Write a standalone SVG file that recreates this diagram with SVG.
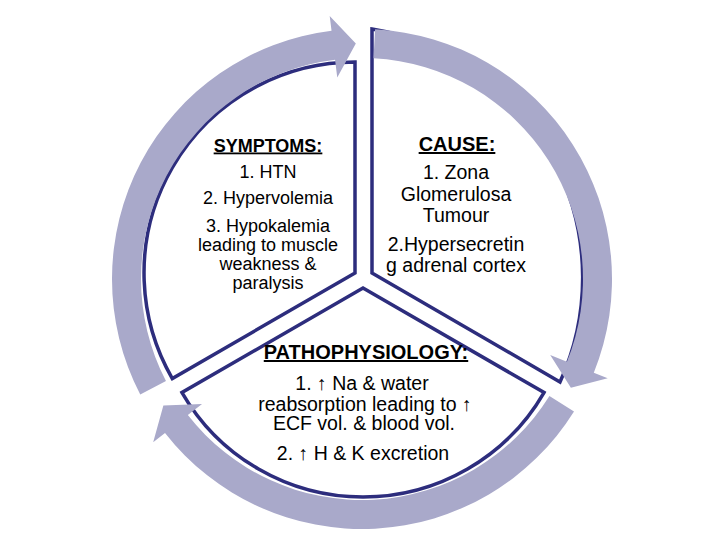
<svg xmlns="http://www.w3.org/2000/svg" width="720" height="540" viewBox="0 0 720 540">
<style>
.sector{fill:#fff;stroke:#2d2d7d;stroke-width:3.5;stroke-linejoin:miter}
.arrow{fill:#a9a9ca}
text{font-family:"Liberation Sans",Arial,sans-serif;fill:#000;text-anchor:middle}
.h{font-weight:bold;text-decoration:underline}
.s{font-size:18px}
.c{font-size:19.5px}
.up{font-family:"Liberation Sans","DejaVu Sans",sans-serif;fill:#000}
</style>
<rect width="720" height="540" fill="#fff"/>
<g id="symptoms">
<path class="sector" d="M355,273 L172.3,378.5 A211,211 0 0 1 355,62 Z"/>
<text class="s h" x="268" y="151.5">SYMPTOMS:</text>
<text class="s" x="268" y="178">1. HTN</text>
<text class="s" x="268" y="204">2. Hypervolemia</text>
<text class="s" x="268" y="232">3. Hypokalemia</text>
<text class="s" x="268" y="251">leading to muscle</text>
<text class="s" x="268" y="270">weakness &amp;</text>
<text class="s" x="268" y="289">paralysis</text>
</g>
<g id="cause">
<path class="sector" d="M372,273 L372,29 A252,252 0 0 1 560,382 Z"/>
<text class="h" style="font-size:20px" x="457" y="151">CAUSE:</text>
<text class="c" x="456" y="179">1. Zona</text>
<text class="c" x="456" y="200.5">Glomerulosa</text>
<text class="c" x="456" y="221.5">Tumour</text>
<text class="c" x="456" y="250.5">2.Hypersecretin</text>
<text class="c" x="456" y="271.5">g adrenal cortex</text>
</g>
<g id="pathophysiology">
<path class="sector" d="M363,288 L544,392.5 A209,209 0 0 1 182,392.5 Z"/>
<text class="h" style="font-size:20px" x="366" y="359">PATHOPHYSIOLOGY:</text>
<text class="c" x="362" y="390">1. <tspan class="up">↑</tspan> Na &amp; water</text>
<text class="c" x="365" y="410.5">reabsorption leading to <tspan class="up">↑</tspan></text>
<text class="c" x="364" y="430">ECF vol. &amp; blood vol.</text>
<text class="c" x="363" y="460">2. <tspan class="up">↑</tspan> H &amp; K excretion</text>
</g>
<g id="connectors">
<path class="arrow" d="M165.97,381.05 L140.25,394.44 A250,250 0 0 1 331.53,30.86 L329.7,15.97 L355.83,43.58 L337.26,77.51 L335.07,59.65 A221,221 0 0 0 165.97,381.05 Z"/>
<path class="arrow" d="M373.57,58.3 L375.08,29.34 A250,250 0 0 1 593.8,372.65 L607.7,378.27 L570.89,387.74 L550.22,355.05 L566.91,361.79 A221,221 0 0 0 373.57,58.3 Z"/>
<path class="arrow" d="M549.42,396.11 L574.01,411.48 A250,250 0 0 1 165,432.92 L153.18,442.15 L163.38,405.53 L202.03,403.98 L187.85,415.06 A221,221 0 0 0 549.42,396.11 Z"/>
</g>
</svg>
